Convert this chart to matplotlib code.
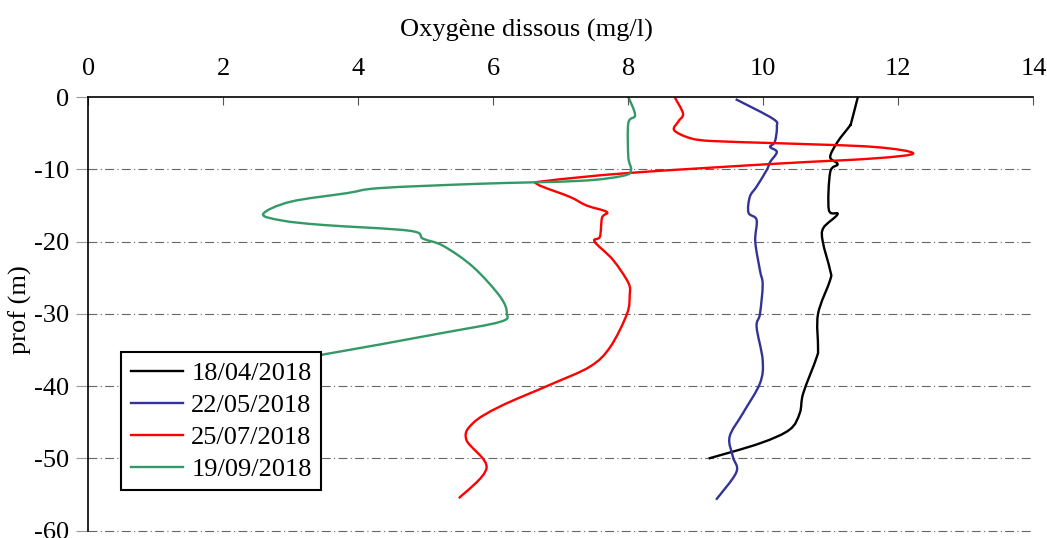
import numpy as np
import matplotlib.pyplot as plt
from matplotlib.path import Path
from matplotlib.patches import PathPatch
from matplotlib.lines import Line2D

plt.rcParams['font.family'] = ['Liberation Serif', 'DejaVu Serif']
plt.rcParams['axes.unicode_minus'] = False

# Data (oxygen mg/l, depth m)
o2_0418 = [11.40, 11.30, 11.28, 11.10, 10.99, 11.10, 10.99, 10.97, 11.10, 10.89,
           10.88, 10.99, 10.99, 10.81, 10.81, 10.79, 10.59, 10.54, 10.39, 9.95, 9.19]
z_0418 = [0, -3.6, -4.0, -6.2, -8.3, -9.3, -10.4, -15.6, -16.2, -18.1,
          -20, -24, -25.3, -30, -34.6, -36, -41, -43.7, -46, -47.9, -50]

o2_0522 = [9.59, 10.14, 10.20, 10.17, 10.10, 10.20, 10.10, 10.05, 9.90, 9.80, 9.78,
           9.90, 9.88, 9.95, 9.99, 9.95, 9.90, 9.99, 9.95, 9.70, 9.50, 9.55, 9.60, 9.30]
z_0522 = [-0.3, -3, -4.1, -6.2, -6.9, -7.6, -9, -10.1, -12.4, -13.8, -16,
          -17, -20, -24, -26, -30, -31.8, -36.4, -39.6, -43.7, -47, -49.8, -51.9, -55.7]

o2_0725 = [8.69, 8.81, 8.74, 8.68, 8.92, 9.26, 10.24, 11.63, 12.22, 11.63, 10.24,
           8.02, 6.79, 6.66, 7.13, 7.38, 7.68, 7.61, 7.58, 7.50, 7.77, 8.00, 8.02,
           7.98, 7.73, 7.43, 6.84, 6.10, 5.70, 5.60, 5.90, 5.49]
z_0725 = [-0.1, -2.3, -3.4, -4.6, -5.7, -6.1, -6.4, -6.9, -7.8, -8.5, -9.2,
          -10.5, -11.6, -12.1, -13.8, -15, -15.9, -16.7, -19.3, -20, -22.5, -25.7, -27.4,
          -30, -34.6, -37.3, -39.8, -42.8, -45.1, -47.4, -51.3, -55.5]

o2_0919 = [8.00, 8.10, 8.00, 8.00, 8.04, 7.92, 7.28, 5.80, 4.32, 3.83, 2.99, 2.59,
           2.88, 3.48, 4.76, 4.96, 5.26, 5.70, 6.10, 6.20, 6.10, 5.21, 3.43, 2.80]
z_0919 = [0, -2.5, -3.6, -8.3, -10.1, -10.9, -11.6, -12.0, -12.6, -13.3, -14.5, -16.2,
          -17.1, -17.7, -18.5, -19.6, -20.6, -23.5, -27.6, -29.9, -31.1, -32.7, -35.7, -36.5]

series = [
    ('18/04/2018', o2_0418, z_0418, 'black'),
    ('22/05/2018', o2_0522, z_0522, '#333399'),
    ('25/07/2018', o2_0725, z_0725, '#ff0000'),
    ('19/09/2018', o2_0919, z_0919, '#339966'),
]


def smooth_path(x, y):
    # Excel-style smoothed line: Catmull-Rom segments drawn as cubic Beziers
    p = np.column_stack([x, y]).astype(float)
    n = len(p)
    verts = [p[0]]
    codes = [Path.MOVETO]
    for i in range(n - 1):
        p0 = p[i - 1] if i > 0 else p[i]
        p3 = p[i + 2] if i + 2 < n else p[i + 1]
        c1 = p[i] + (p[i + 1] - p0) / 6
        c2 = p[i + 1] - (p3 - p[i]) / 6
        verts += [c1, c2, p[i + 1]]
        codes += [Path.CURVE4] * 3
    return Path(verts, codes)


fig = plt.figure(figsize=(10.47, 5.38), dpi=100)
ax = fig.add_axes([0.0843, 0.0134, 0.9027, 0.8063])

handles = []
for label, x, y, c in series:
    ax.add_patch(PathPatch(smooth_path(x, y), facecolor='none', edgecolor=c, lw=1.7))
    handles.append(Line2D([], [], color=c, lw=1.7, label=label))

ax.set_xlim(0, 14)
ax.set_ylim(-60, 0)
ax.set_xticks(np.arange(0, 15, 2))
ax.set_yticks(np.arange(-60, 1, 10))
ax.xaxis.tick_top()
ax.xaxis.set_label_position('top')
ax.tick_params(axis='x', direction='in', length=6, labelsize=19, pad=12, color='#555555')
ax.tick_params(axis='y', direction='out', length=9, labelsize=19, pad=5, color='#999999')

for yv in np.arange(-60, 0, 10):
    ax.axhline(yv, color='#666666', lw=0.8, linestyle=(0, (8, 3, 1, 3)), clip_on=False, zorder=0)
ax.spines['right'].set_visible(False)
ax.spines['bottom'].set_visible(False)
ax.spines['top'].set_linewidth(1.2)
ax.spines['left'].set_linewidth(1.2)

ax.set_xlabel('Oxygène dissous (mg/l)', fontsize=19)
ax.xaxis.set_label_coords(0.464, 1.14)
ax.set_ylabel('prof (m)', fontsize=19)
ax.yaxis.set_label_coords(-0.06, 0.51)

leg = ax.legend(handles=handles, loc='lower left', bbox_to_anchor=(0.035, 0.094), fontsize=19,
                frameon=True, fancybox=False, edgecolor='black', framealpha=1,
                handlelength=2.0, labelspacing=0.32, borderpad=0.35, handletextpad=0.3,
                borderaxespad=0)
leg.get_frame().set_linewidth(1.5)
leg.set_zorder(5)

fig.savefig('out.png', dpi=100)
